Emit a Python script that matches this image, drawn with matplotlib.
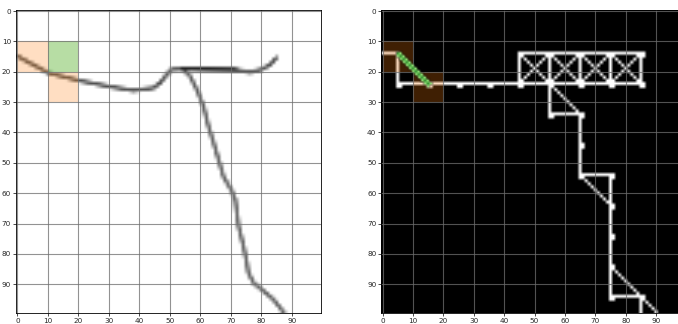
import numpy as np
import matplotlib
matplotlib.use("Agg")
import matplotlib.pyplot as plt
from matplotlib.patches import Rectangle

SIZE = 100

# Pen strokes on a 100x100 canvas (x = column, y = row)
stroke_a_x = [0, 10, 20, 30, 38, 44.5, 46.8, 49, 50.6, 54, 62, 70.8, 76.3, 80.1, 82.9, 84.8]
stroke_a_y = [15, 20.5, 23, 25, 26.3, 25.5, 23.8, 21, 19.4, 19.2, 19.3, 19.4, 20.3, 19.4, 17.8, 15.6]
stroke_b_x = [71.5, 62, 54, 56.6, 58.8, 61, 62.6, 64.3, 66, 67.5, 70.3, 71.4, 72.5, 74.1, 75.2, 75.7, 77.4, 80.7, 83.9, 87.5]
stroke_b_y = [19.5, 19.3, 19.0, 21.6, 26, 31.5, 38, 43.5, 49.3, 54.5, 59.4, 62.2, 71, 77.5, 83, 86.3, 89.6, 92.3, 95, 99.6]
stroke_ink = [0.68, 0.62]

# Highlighted cells of the 10x10 grid (column, row)
orange_cells = [(0, 1), (1, 2)]
green_cells = [(1, 1)]

# Skeleton graph: nodes and edges in pixel coordinates (x, y)
graph_nodes = [(5, 24), (15, 24), (25, 24), (35, 24), (45, 24), (55, 24), (65, 24),
               (75, 24), (85, 24), (45, 14), (55, 14), (65, 14), (75, 14), (85, 14),
               (55, 34), (65, 34), (65, 44), (65, 54), (75, 54), (75, 64), (75, 74),
               (75, 84), (75, 94), (85, 94)]
graph_edges = [((0, 14), (5, 14)), ((5, 14), (5, 24)), ((5, 24), (85, 24)),
               ((45, 14), (85, 14)),
               ((45, 14), (45, 24)), ((55, 14), (55, 24)), ((65, 14), (65, 24)),
               ((75, 14), (75, 24)), ((85, 14), (85, 24)),
               ((45, 14), (55, 24)), ((55, 14), (45, 24)),
               ((55, 14), (65, 24)), ((65, 14), (55, 24)),
               ((65, 14), (75, 24)), ((75, 14), (65, 24)),
               ((75, 14), (85, 24)), ((85, 14), (75, 24)),
               ((55, 24), (55, 34)), ((55, 34), (65, 34)), ((55, 24), (65, 34)),
               ((65, 34), (65, 54)), ((65, 54), (75, 54)), ((65, 54), (75, 64)),
               ((75, 54), (75, 94)), ((75, 84), (90, 99)),
               ((75, 94), (85, 94)), ((85, 94), (85, 99))]
path_edge = ((5, 14), (15, 24))

ticks = list(range(0, 100, 10))
ORANGE = "tab:orange"
GREEN = "#7cc25a"
GRID = "#6e6e6e"


def stroke_coverage(xs, ys):
    yy, xx = np.mgrid[0:SIZE, 0:SIZE].astype(float)
    dist = np.full((SIZE, SIZE), np.inf)
    for x0, y0, x1, y1 in zip(xs[:-1], ys[:-1], xs[1:], ys[1:]):
        dx, dy = x1 - x0, y1 - y0
        t = ((xx - x0) * dx + (yy - y0) * dy) / max(dx * dx + dy * dy, 1e-9)
        t = np.clip(t, 0, 1)
        d = np.hypot(xx - (x0 + t * dx), yy - (y0 + t * dy))
        dist = np.minimum(dist, d)
    return np.clip(1.0 - (dist - 0.3) / 0.7, 0, 1)


def draw_segment(canvas, p0, p1, value):
    (x0, y0), (x1, y1) = p0, p1
    n = int(max(abs(x1 - x0), abs(y1 - y0))) + 1
    xs = np.rint(np.linspace(x0, x1, n)).astype(int)
    ys = np.rint(np.linspace(y0, y1, n)).astype(int)
    ok = (xs >= 0) & (xs < SIZE) & (ys >= 0) & (ys < SIZE)
    canvas[ys[ok], xs[ok]] = value


# Grayscale drawing
ink = np.zeros((SIZE, SIZE))
for (sx, sy), level in zip([(stroke_a_x, stroke_a_y), (stroke_b_x, stroke_b_y)], stroke_ink):
    cov = stroke_coverage(sx, sy) * level
    ink = 1 - (1 - ink) * (1 - cov)

# Skeleton raster
skel = np.zeros((SIZE, SIZE, 3))
for p0, p1 in graph_edges:
    draw_segment(skel, p0, p1, 1.0)
for x, y in graph_nodes:
    skel[y:y + 2, x:x + 2] = 1.0

path_layer = np.zeros((SIZE, SIZE, 4))
(px0, py0), (px1, py1) = path_edge
for k in range(px1 - px0 + 1):
    r, c = py0 + k, px0 + k
    path_layer[r, c] = (0.16, 0.55, 0.16, 1)
    if c + 1 < SIZE:
        path_layer[r, c + 1] = (0.62, 0.92, 0.50, 1)
    if r + 1 < SIZE:
        path_layer[r + 1, c] = (0.62, 0.92, 0.50, 1)

fig = plt.figure(figsize=(6.78, 3.24), dpi=100)
W, H = 678.0, 324.0
bottom = 1 - 313.2 / H
height = 303.7 / H
ax1 = fig.add_axes([15.8 / W, bottom, 305.0 / W, height])
ax2 = fig.add_axes([381.2 / W, bottom, 303.7 / W, height])

ax1.imshow(ink, cmap="gray_r", vmin=0, vmax=1, interpolation="bilinear", aspect="auto")
for c, r in orange_cells:
    ax1.add_patch(Rectangle((c * 10, r * 10), 10, 10, facecolor=ORANGE, alpha=0.25, lw=0))
for c, r in green_cells:
    ax1.add_patch(Rectangle((c * 10, r * 10), 10, 10, facecolor=GREEN, alpha=0.55, lw=0))

ax2.imshow(skel, interpolation="bilinear", aspect="auto")
for c, r in orange_cells:
    ax2.add_patch(Rectangle((c * 10, r * 10), 10, 10, facecolor=ORANGE, alpha=0.25, lw=0))
ax2.imshow(path_layer, interpolation="bilinear", aspect="auto", zorder=2)

for ax in (ax1, ax2):
    ax.set_xlim(-0.5, SIZE - 0.5)
    ax.set_ylim(SIZE - 0.5, -0.5)
    ax.set_xticks(ticks)
    ax.set_yticks(ticks)
    ax.grid(True, color=GRID, lw=0.8, alpha=0.75)
    ax.tick_params(labelsize=5.2, length=2, width=0.5, pad=1.5, labelcolor="#262626")
    for s in ax.spines.values():
        s.set_linewidth(0.6)

fig.savefig("out.png", dpi=100)
